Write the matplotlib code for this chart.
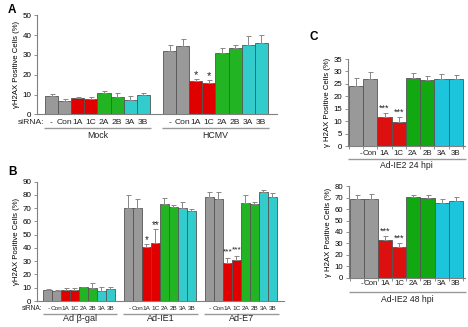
import numpy as np
import matplotlib
matplotlib.use("Agg")
import matplotlib.pyplot as plt
from matplotlib.transforms import offset_copy

plt.rcParams['font.family'] = ['Liberation Sans', 'DejaVu Sans']

# ---------------- data ----------------
categories = ['-', 'Con', '1A', '1C', '2A', '2B', '3A', '3B']

a_groups = ['Mock', 'HCMV']
a_mock = [9.2, 6.7, 8.2, 7.7, 10.8, 8.9, 7.2, 9.6]
a_mock_err = [0.9, 1.0, 0.3, 1.0, 1.0, 2.0, 2.0, 1.0]
a_hcmv = [32.0, 34.5, 16.8, 15.7, 31.0, 33.5, 34.8, 36.0]
a_hcmv_err = [2.8, 3.7, 1.2, 1.5, 2.7, 1.3, 4.6, 3.8]
a_hcmv_stars = ['', '', '*', '*', '', '', '', '']

b_groups = ['Ad β-gal', 'Ad-IE1', 'Ad-E7']
b_bgal = [8.0, 7.5, 8.3, 8.3, 10.3, 9.8, 7.5, 8.8]
b_bgal_err = [0.8, 0.8, 1.7, 1.7, 0.5, 3.5, 2.8, 1.5]
b_ie1 = [70.5, 70.0, 41.0, 44.0, 72.9, 70.6, 69.9, 67.9]
b_ie1_err = [9.8, 6.6, 2.0, 10.5, 4.5, 1.5, 4.8, 1.2]
b_e7 = [78.2, 76.8, 28.8, 31.2, 73.9, 73.4, 82.2, 78.7]
b_e7_err = [4.0, 5.3, 3.7, 2.7, 6.3, 1.3, 1.3, 2.7]
b_ie1_stars = ['', '', '*', '**', '', '', '', '']
b_e7_stars = ['', '', '***', '***', '', '', '', '']

c_24_label = 'Ad-IE2 24 hpi'
c_24 = [24.3, 26.9, 11.6, 9.7, 27.2, 26.4, 26.9, 26.9]
c_24_err = [3.2, 3.0, 1.6, 1.9, 2.3, 1.6, 2.2, 1.5]
c_48_label = 'Ad-IE2 48 hpi'
c_48 = [68.5, 68.5, 33.0, 27.2, 71.0, 69.5, 65.5, 67.5]
c_48_err = [3.5, 5.0, 3.5, 3.0, 1.8, 2.5, 3.0, 3.5]
c_stars = ['', '', '***', '***', '', '', '', '']

# ---------------- style ----------------
GRAY, RED, GREEN, CYAN = '#999999', '#e00000', '#22b422', '#33cccc'
C_GRAY, C_RED, C_GREEN, C_CYAN = '#999999', '#dd1010', '#11a811', '#1cc4dc'
ab_colors = [GRAY, GRAY, RED, RED, GREEN, GREEN, CYAN, CYAN]
c_colors = [C_GRAY, C_GRAY, C_RED, C_RED, C_GREEN, C_GREEN, C_CYAN, C_CYAN]
EDGE = '#555555'
AXC = '#808080'

fig = plt.figure(figsize=(4.68, 3.27), dpi=100)


def style_axes(ax, ymax, ystep, fs):
    for s in ['top', 'right']:
        ax.spines[s].set_visible(False)
    for s in ['left', 'bottom']:
        ax.spines[s].set_color(AXC)
        ax.spines[s].set_linewidth(0.8)
    ax.set_ylim(0, ymax)
    ax.set_yticks(np.arange(0, ymax + 0.1, ystep))
    ax.tick_params(axis='y', length=2.5, width=0.6, color=AXC, labelsize=fs, pad=1.5)
    ax.tick_params(axis='x', length=0, labelbottom=False)


def draw_group(ax, x0, vals, errs, colors, stars, star_off, star_fs):
    xs = x0 + np.arange(len(vals))
    ax.bar(xs, vals, width=1.0, color=colors, edgecolor=EDGE, linewidth=0.6,
           yerr=[np.zeros(len(errs)), errs],
           error_kw=dict(ecolor='#888888', elinewidth=0.7, capsize=1.8, capthick=0.7),
           zorder=2)
    tr = offset_copy(ax.transData, fig=fig, x=0, y=star_off, units='dots')
    for x, v, e, s in zip(xs, vals, errs, stars):
        if s:
            ax.text(x, v + e, s, transform=tr, ha='center', va='center',
                    fontsize=star_fs, color='#222222')
    return xs


def xlabels(ax, xs, labels, dy, fs, shift_dash=0.0):
    tr = offset_copy(ax.get_xaxis_transform(), fig=fig, x=0, y=-dy, units='dots')
    for x, lab in zip(xs, labels):
        xx = x + (shift_dash if lab == '-' else 0)
        ax.text(xx, 0, lab, transform=tr, ha='center', va='center', fontsize=fs, color='#222222')


def group_line(ax, x_start, x_end, label, dy_line, dy_text, fs):
    trl = offset_copy(ax.get_xaxis_transform(), fig=fig, x=0, y=-dy_line, units='dots')
    ax.plot([x_start, x_end], [0, 0], transform=trl, color='#999999', lw=1.0,
            clip_on=False, solid_capstyle='butt')
    trt = offset_copy(ax.get_xaxis_transform(), fig=fig, x=0, y=-dy_text, units='dots')
    ax.text((x_start + x_end) / 2, 0, label, transform=trt, ha='center', va='center',
            fontsize=fs, color='#222222')


# ---------------- Panel A ----------------
axA = fig.add_axes([37 / 468, 1 - 114.3 / 327, 240 / 468, 99 / 327])
style_axes(axA, 50, 10, 5.8)
xa1 = draw_group(axA, 0, a_mock, a_mock_err, ab_colors, [''] * 8, 5, 8)
xa2 = draw_group(axA, 9, a_hcmv, a_hcmv_err, ab_colors, a_hcmv_stars, 4, 8)
axA.set_xlim(-1.11, 17.19)
axA.set_ylabel('γH2AX Positive Cells (%)', fontsize=5.6, labelpad=2)
for xs in (xa1, xa2):
    xlabels(axA, xs, categories, 8.5, 6.1)
trs = offset_copy(axA.get_xaxis_transform(), fig=fig, x=0, y=-8.5, units='dots')
axA.text(-0.55, 0, 'siRNA:', transform=trs, ha='right', va='center', fontsize=6.1, color='#222222')
for xs, g in zip((xa1, xa2), a_groups):
    group_line(axA, xs[0] - 0.6, xs[-1] + 0.6, g, 13.5, 21, 6.3)
fig.text(8 / 468, 1 - 10 / 327, 'A', fontsize=8.5, fontweight='bold', ha='left', va='center')

# ---------------- Panel B ----------------
axB = fig.add_axes([37 / 468, 1 - 301 / 327, 247 / 468, 119.3 / 327])
style_axes(axB, 90, 10, 5.8)
xb1 = draw_group(axB, 0, b_bgal, b_bgal_err, ab_colors, [''] * 8, 5, 7)
xb2 = draw_group(axB, 9, b_ie1, b_ie1_err, ab_colors, b_ie1_stars, 4, 7)
xb3 = draw_group(axB, 18, b_e7, b_e7_err, ab_colors, b_e7_stars, 6, 6)
axB.set_xlim(-1.17, 26.3)
axB.set_ylabel('γH2AX Positive Cells (%)', fontsize=5.6, labelpad=2)
for xs in (xb1, xb2, xb3):
    xlabels(axB, xs, categories, 7.5, 4.6, shift_dash=0.1)
trs = offset_copy(axB.get_xaxis_transform(), fig=fig, x=0, y=-7.5, units='dots')
axB.text(-0.55, 0, 'siRNA:', transform=trs, ha='right', va='center', fontsize=4.8, color='#222222')
for xs, g in zip((xb1, xb2, xb3), b_groups):
    group_line(axB, xs[0] - 0.55, xs[-1] + 0.7, g, 12.5, 17.5, 6.5)
fig.text(8 / 468, 1 - 172 / 327, 'B', fontsize=8.5, fontweight='bold', ha='left', va='center')

# ---------------- Panel C ----------------
def panel_c(rect, vals, errs, ymax, ystep, label, dy_lab, dy_line, dy_text):
    ax = fig.add_axes(rect)
    style_axes(ax, ymax, ystep, 5.6)
    xs = draw_group(ax, 0, vals, errs, c_colors, c_stars, 5, 6.5)
    ax.set_xlim(-0.59, 7.66)
    ax.set_xticks(np.arange(-0.5, 8.0, 1.0))
    ax.tick_params(axis='x', length=2.5, width=0.6, color=AXC, direction='out')
    ax.set_ylabel('γ H2AX Positive Cells (%)', fontsize=5.6, labelpad=2)
    xlabels(ax, xs, categories, dy_lab, 5.7, shift_dash=0.35)
    group_line(ax, -0.6, 7.7, label, dy_line, dy_text, 6.2)
    return ax

axC1 = panel_c([347.7 / 468, 1 - 146 / 327, 117.3 / 468, 87 / 327], c_24, c_24_err,
               35, 5, c_24_label, 7.5, 12.5, 19.5)
axC2 = panel_c([348.7 / 468, 1 - 277.7 / 327, 116.3 / 468, 91.4 / 327], c_48, c_48_err,
               80, 10, c_48_label, 6, 14, 21.5)
fig.text(310 / 468, 1 - 37 / 327, 'C', fontsize=8.5, fontweight='bold', ha='left', va='center')

fig.savefig('out.png', dpi=100)
